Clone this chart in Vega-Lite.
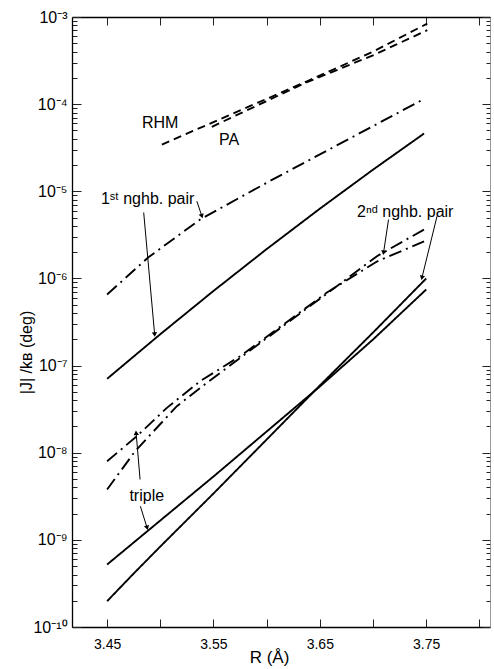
{
  "$schema": "https://vega.github.io/schema/vega-lite/v6.json",
  "width": 418,
  "height": 610,
  "autosize": "none",
  "padding": {"left": 72, "top": 17, "right": 4, "bottom": 42},
  "background": "white",
  "config": {
    "view": {"stroke": null},
    "font": "Liberation Sans",
    "axis": {"grid": false}
  },
  "datasets": {
    "curves": [
      {"series": "RHM", "method": "RHM", "R": 3.5015, "J": 3.44e-5},
      {"series": "RHM", "method": "RHM", "R": 3.638, "J": 1.83e-4},
      {"series": "RHM", "method": "RHM", "R": 3.70, "J": 4.0e-4},
      {"series": "RHM", "method": "RHM", "R": 3.751, "J": 8.4e-4},
      {"series": "PA", "method": "PA", "R": 3.5485, "J": 5.5e-5},
      {"series": "PA", "method": "PA", "R": 3.638, "J": 1.79e-4},
      {"series": "PA", "method": "PA", "R": 3.70, "J": 3.63e-4},
      {"series": "PA", "method": "PA", "R": 3.751, "J": 7.06e-4},
      {"series": "1st nghb pair A", "method": "A", "R": 3.45, "J": 6.54e-7},
      {"series": "1st nghb pair A", "method": "A", "R": 3.4886, "J": 1.738e-6},
      {"series": "1st nghb pair A", "method": "A", "R": 3.5375, "J": 4.75e-6},
      {"series": "1st nghb pair A", "method": "A", "R": 3.6005, "J": 1.262e-5},
      {"series": "1st nghb pair A", "method": "A", "R": 3.6626, "J": 3.197e-5},
      {"series": "1st nghb pair A", "method": "A", "R": 3.7096, "J": 6.46e-5},
      {"series": "1st nghb pair A", "method": "A", "R": 3.7482, "J": 1.151e-4},
      {"series": "1st nghb pair B", "method": "B", "R": 3.45, "J": 7.05e-8},
      {"series": "1st nghb pair B", "method": "B", "R": 3.50, "J": 2.29e-7},
      {"series": "1st nghb pair B", "method": "B", "R": 3.55, "J": 7.18e-7},
      {"series": "1st nghb pair B", "method": "B", "R": 3.60, "J": 2.17e-6},
      {"series": "1st nghb pair B", "method": "B", "R": 3.65, "J": 6.31e-6},
      {"series": "1st nghb pair B", "method": "B", "R": 3.70, "J": 1.77e-5},
      {"series": "1st nghb pair B", "method": "B", "R": 3.748, "J": 4.6e-5},
      {"series": "triple A", "method": "A", "R": 3.45, "J": 7.98e-9},
      {"series": "triple A", "method": "A", "R": 3.4779, "J": 1.545e-8},
      {"series": "triple A", "method": "A", "R": 3.5062, "J": 3.27e-8},
      {"series": "triple A", "method": "A", "R": 3.5375, "J": 6.62e-8},
      {"series": "triple A", "method": "A", "R": 3.5751, "J": 1.28e-7},
      {"series": "triple A", "method": "A", "R": 3.6567, "J": 6.89e-7},
      {"series": "triple A", "method": "A", "R": 3.7037, "J": 1.563e-6},
      {"series": "triple A", "method": "A", "R": 3.748, "J": 2.67e-6},
      {"series": "2nd nghb pair A", "method": "A", "R": 3.45, "J": 3.78e-9},
      {"series": "2nd nghb pair A", "method": "A", "R": 3.4763, "J": 1.04e-8},
      {"series": "2nd nghb pair A", "method": "A", "R": 3.5156, "J": 3.42e-8},
      {"series": "2nd nghb pair A", "method": "A", "R": 3.5438, "J": 6.34e-8},
      {"series": "2nd nghb pair A", "method": "A", "R": 3.5751, "J": 1.227e-7},
      {"series": "2nd nghb pair A", "method": "A", "R": 3.6567, "J": 6.71e-7},
      {"series": "2nd nghb pair A", "method": "A", "R": 3.7037, "J": 1.8e-6},
      {"series": "2nd nghb pair A", "method": "A", "R": 3.748, "J": 3.64e-6},
      {"series": "triple B", "method": "B", "R": 3.45, "J": 5.21e-10},
      {"series": "triple B", "method": "B", "R": 3.50, "J": 1.667e-9},
      {"series": "triple B", "method": "B", "R": 3.55, "J": 5.33e-9},
      {"series": "triple B", "method": "B", "R": 3.60, "J": 1.75e-8},
      {"series": "triple B", "method": "B", "R": 3.65, "J": 5.75e-8},
      {"series": "triple B", "method": "B", "R": 3.70, "J": 1.99e-7},
      {"series": "triple B", "method": "B", "R": 3.75, "J": 7.46e-7},
      {"series": "2nd nghb pair B", "method": "B", "R": 3.45, "J": 1.977e-10},
      {"series": "2nd nghb pair B", "method": "B", "R": 3.475, "J": 4.11e-10},
      {"series": "2nd nghb pair B", "method": "B", "R": 3.50, "J": 8.38e-10},
      {"series": "2nd nghb pair B", "method": "B", "R": 3.55, "J": 3.4e-9},
      {"series": "2nd nghb pair B", "method": "B", "R": 3.60, "J": 1.416e-8},
      {"series": "2nd nghb pair B", "method": "B", "R": 3.65, "J": 5.9e-8},
      {"series": "2nd nghb pair B", "method": "B", "R": 3.70, "J": 2.39e-7},
      {"series": "2nd nghb pair B", "method": "B", "R": 3.75, "J": 9.98e-7}
    ],
    "arrows": [
      {"R0": 3.4844, "J0": 5.71e-6, "R1": 3.4947, "J1": 2.275e-7, "dir": 174.8},
      {"R0": 3.5344, "J0": 7.69e-6, "R1": 3.5391, "J1": 5.18e-6, "dir": 161.6},
      {"R0": 3.7146, "J0": 4.74e-6, "R1": 3.7099, "J1": 1.97e-6, "dir": 188.6},
      {"R0": 3.7602, "J0": 5.18e-6, "R1": 3.746, "J1": 1.016e-6, "dir": 193.7},
      {"R0": 3.481, "J0": 4.93e-9, "R1": 3.4773, "J1": 1.69e-8, "dir": 355.1},
      {"R0": 3.4813, "J0": 2.43e-9, "R1": 3.4876, "J1": 1.374e-9, "dir": 164.5}
    ],
    "labels": [
      {"text": "RHM", "R": 3.4999, "J": 6.15e-5},
      {"text": "PA", "R": 3.5648, "J": 3.83e-5},
      {"text": "1ˢᵗ  nghb. pair", "R": 3.4881, "J": 8.26e-6},
      {"text": "2ⁿᵈ  nghb. pair", "R": 3.7303, "J": 5.78e-6},
      {"text": "triple", "R": 3.4873, "J": 3.18e-9}
    ]
  },
  "layer": [
    {
      "data": {"name": "curves"},
      "mark": {"type": "line", "strokeWidth": 1.9, "color": "black"},
      "encoding": {
        "x": {
          "field": "R", "type": "quantitative",
          "scale": {"domain": [3.417, 3.81], "nice": false, "zero": false},
          "axis": {
            "orient": "bottom", "title": "R (Å)", "titleFontSize": 17, "titleFontWeight": "normal", "titleColor": "black", "titleX": 197, "titleY": 22, "titleBaseline": "top",
            "values": [3.45, 3.5, 3.55, 3.6, 3.65, 3.7, 3.75, 3.8],
            "labelExpr": "round(datum.value*100) % 10 == 5 ? format(datum.value, '.2f') : ''",
            "domainColor": "black", "domainWidth": 1.3,
            "tickSize": -8, "tickColor": "#222222", "labelPadding": 18, "labelFontSize": 14, "labelColor": "black"
          }
        },
        "y": {
          "field": "J", "type": "quantitative",
          "scale": {"type": "log", "domain": [1e-10, 1e-3], "nice": false},
          "axis": {
            "orient": "left", "title": "|J| /kʙ (deg)", "titleFontSize": 16, "titleFontWeight": "normal", "titleColor": "black", "titleX": -46, "titleY": 335, "titleBaseline": "middle",
            "values": [1e-10,2e-10,3e-10,4e-10,5e-10,6e-10,7e-10,8e-10,9e-10,1e-9,2e-9,3e-9,4e-9,5e-9,6e-9,7e-9,8e-9,9e-9,1e-8,2e-8,3e-8,4e-8,5e-8,6e-8,7e-8,8e-8,9e-8,1e-7,2e-7,3e-7,4e-7,5e-7,6e-7,7e-7,8e-7,9e-7,1e-6,2e-6,3e-6,4e-6,5e-6,6e-6,7e-6,8e-6,9e-6,1e-5,2e-5,3e-5,4e-5,5e-5,6e-5,7e-5,8e-5,9e-5,1e-4,2e-4,3e-4,4e-4,5e-4,6e-4,7e-4,8e-4,9e-4,1e-3],
            "labelExpr": "abs(log(datum.value)/LN10 - round(log(datum.value)/LN10)) < 0.01 ? '10' + (round(log(datum.value)/LN10) == -10 ? '⁻¹⁰' : '⁻' + ['⁰','¹','²','³','⁴','⁵','⁶','⁷','⁸','⁹'][-round(log(datum.value)/LN10)]) : ''",
            "domainColor": "black", "domainWidth": 1.3,
            "tickSize": {"condition": {"test": "abs(log(datum.value)/LN10 - round(log(datum.value)/LN10)) < 0.01", "value": -9}, "value": -5},
            "tickColor": "#222222",
            "labelPadding": 14, "labelFontSize": 16, "labelColor": "black", "labelOverlap": false
          }
        },
        "strokeDash": {
          "field": "method", "type": "nominal",
          "scale": {"domain": ["RHM", "PA", "A", "B"], "range": [[8, 5], [8, 5], [13, 5, 2, 5], [1, 0]]},
          "legend": null
        },
        "detail": {"field": "series", "type": "nominal"}
      }
    },
    {
      "data": {"name": "arrows"},
      "mark": {"type": "rule", "strokeWidth": 1, "color": "black"},
      "encoding": {
        "x": {
          "field": "R0", "type": "quantitative",
          "scale": {"domain": [3.417, 3.81], "nice": false, "zero": false},
          "axis": {"orient": "top", "title": " ", "labels": false, "domainColor": "black", "domainWidth": 1.3,
            "values": [3.45, 3.5, 3.55, 3.6, 3.65, 3.7, 3.75, 3.8], "tickSize": -8, "tickColor": "#222222"}
        },
        "x2": {"field": "R1"},
        "y": {
          "field": "J0", "type": "quantitative",
          "scale": {"type": "log", "domain": [1e-10, 1e-3], "nice": false},
          "axis": {"orient": "right", "title": " ", "labels": false, "domainColor": "#555555", "domainWidth": 0.6,
            "values": [1e-10,2e-10,3e-10,4e-10,5e-10,6e-10,7e-10,8e-10,9e-10,1e-9,2e-9,3e-9,4e-9,5e-9,6e-9,7e-9,8e-9,9e-9,1e-8,2e-8,3e-8,4e-8,5e-8,6e-8,7e-8,8e-8,9e-8,1e-7,2e-7,3e-7,4e-7,5e-7,6e-7,7e-7,8e-7,9e-7,1e-6,2e-6,3e-6,4e-6,5e-6,6e-6,7e-6,8e-6,9e-6,1e-5,2e-5,3e-5,4e-5,5e-5,6e-5,7e-5,8e-5,9e-5,1e-4,2e-4,3e-4,4e-4,5e-4,6e-4,7e-4,8e-4,9e-4,1e-3],
            "tickSize": {"condition": {"test": "abs(log(datum.value)/LN10 - round(log(datum.value)/LN10)) < 0.01", "value": -8}, "value": -4},
            "tickColor": "#222222"}
        },
        "y2": {"field": "J1"}
      }
    },
    {
      "data": {"name": "arrows"},
      "mark": {"type": "point", "shape": "triangle-up", "filled": true, "size": 28, "color": "black", "opacity": 1},
      "encoding": {
        "x": {"field": "R1", "type": "quantitative", "axis": null},
        "y": {"field": "J1", "type": "quantitative", "axis": null},
        "angle": {"field": "dir", "type": "quantitative", "scale": {"domain": [0, 360], "range": [0, 360]}}
      }
    },
    {
      "data": {"name": "labels"},
      "mark": {"type": "text", "fontSize": 16, "font": "Liberation Sans", "align": "center", "baseline": "middle", "color": "black"},
      "encoding": {
        "x": {"field": "R", "type": "quantitative", "axis": null},
        "y": {"field": "J", "type": "quantitative", "axis": null},
        "text": {"field": "text"}
      }
    }
  ],
  "resolve": {"axis": {"x": "independent", "y": "independent"}}
}
